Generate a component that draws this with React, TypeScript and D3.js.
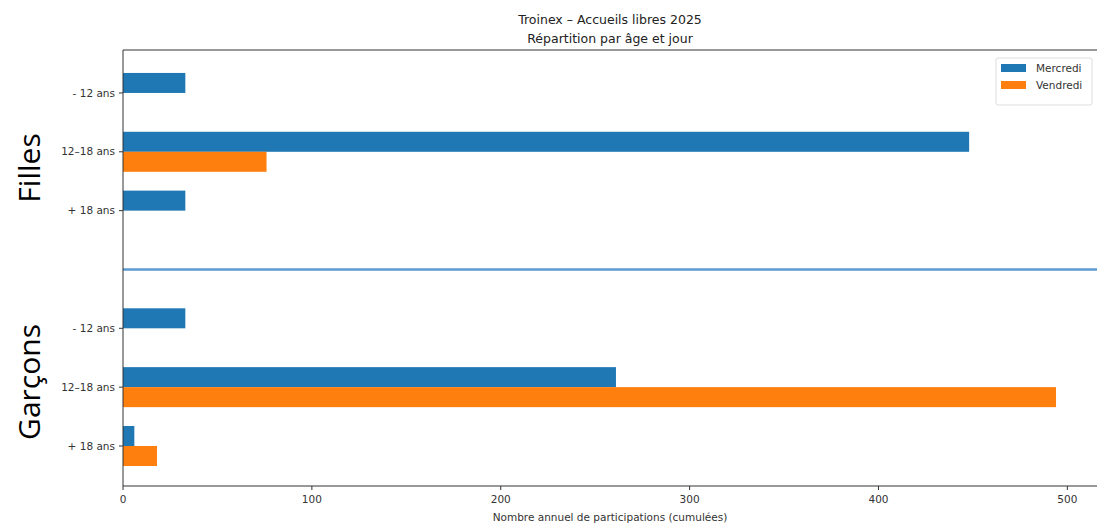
import React from "react";
import * as d3 from "d3";

const groups = ["Filles", "Garçons"];
const ageLabels = ["- 12 ans", "12–18 ans", "+ 18 ans"];
const series = ["Mercredi", "Vendredi"];
const fillesMercredi = [33, 448, 33];
const fillesVendredi = [0, 76, 0];
const garconsMercredi = [33, 261, 6];
const garconsVendredi = [0, 494, 18];
const xTicks = [0, 100, 200, 300, 400, 500];
const colors = ["#1f77b4", "#ff7f0e"];

const W = 1097;
const H = 524;
const left = 123;
const right = 1097;
const top = 50;
const bottom = 486;

export default function App() {
  const x = d3.scaleLinear().domain([0, 515.7]).range([left, right]);
  const y = d3.scaleLinear().domain([-0.73, 6.68]).range([top, bottom]);
  const barH = y(0.34) - y(0);

  const rows = [
    { g: 0, a: 0, vals: [fillesMercredi[0], fillesVendredi[0]], pos: 0 },
    { g: 0, a: 1, vals: [fillesMercredi[1], fillesVendredi[1]], pos: 1 },
    { g: 0, a: 2, vals: [fillesMercredi[2], fillesVendredi[2]], pos: 2 },
    { g: 1, a: 0, vals: [garconsMercredi[0], garconsVendredi[0]], pos: 4 },
    { g: 1, a: 1, vals: [garconsMercredi[1], garconsVendredi[1]], pos: 5 },
    { g: 1, a: 2, vals: [garconsMercredi[2], garconsVendredi[2]], pos: 6 },
  ];

  const font = "DejaVu Sans, sans-serif";

  return (
    <svg
      width={W}
      height={H}
      style={{ position: "absolute", left: 0, top: 0, background: "#fff" }}
    >
      <rect x={0} y={0} width={W} height={H} fill="#fff" />
      {rows.map((r, i) =>
        r.vals.map((v, s) => (
          <rect
            key={`${i}-${s}`}
            x={x(0)}
            y={s === 0 ? y(r.pos) - barH : y(r.pos)}
            width={x(v) - x(0)}
            height={barH}
            fill={colors[s]}
          />
        ))
      )}
      <line
        x1={left}
        x2={right}
        y1={y(3)}
        y2={y(3)}
        stroke="#5b9bd0"
        strokeWidth={2.6}
      />
      <line x1={left} x2={left} y1={top} y2={bottom} stroke="#333" strokeWidth={1} />
      <line x1={left} x2={right} y1={bottom} y2={bottom} stroke="#333" strokeWidth={1} />
      <line x1={left} x2={right} y1={top} y2={top} stroke="#333" strokeWidth={1} />
      {xTicks.map((t) => (
        <g key={t}>
          <line x1={x(t)} x2={x(t)} y1={bottom} y2={bottom + 4} stroke="#333" />
          <text
            x={x(t)}
            y={bottom + 17}
            textAnchor="middle"
            fontFamily={font}
            fontSize={10.5}
            fill="#333"
          >
            {t}
          </text>
        </g>
      ))}
      {rows.map((r, i) => (
        <g key={`yt${i}`}>
          <line x1={left - 4} x2={left} y1={y(r.pos)} y2={y(r.pos)} stroke="#333" />
          <text
            x={left - 8}
            y={y(r.pos)}
            dy="0.35em"
            textAnchor="end"
            fontFamily={font}
            fontSize={10.5}
            fill="#333"
          >
            {ageLabels[r.a]}
          </text>
        </g>
      ))}
      {groups.map((g, gi) => {
        const cy = gi === 0 ? 168 : 382;
        return (
          <text
            key={g}
            transform={`translate(40,${cy}) rotate(-90)`}
            textAnchor="middle"
            fontFamily="Open Sans, Noto Sans, sans-serif"
            fontSize={30}
            fill="#000"
          >
            {g}
          </text>
        );
      })}
      <text
        x={(left + right) / 2}
        y={24}
        textAnchor="middle"
        fontFamily={font}
        fontSize={12.5}
        fill="#222"
      >
        Troinex – Accueils libres 2025
      </text>
      <text
        x={(left + right) / 2}
        y={43}
        textAnchor="middle"
        fontFamily={font}
        fontSize={12.5}
        fill="#222"
      >
        Répartition par âge et jour
      </text>
      <text
        x={(left + right) / 2}
        y={521}
        textAnchor="middle"
        fontFamily={font}
        fontSize={10.5}
        fill="#333"
      >
        Nombre annuel de participations (cumulées)
      </text>
      <g>
        <rect
          x={996}
          y={58}
          width={96}
          height={47}
          rx={2}
          fill="#fff"
          stroke="#ddd"
        />
        {series.map((s, i) => (
          <g key={s}>
            <rect x={1001} y={64 + i * 17} width={25} height={8} fill={colors[i]} />
            <text
              x={1036}
              y={68 + i * 17}
              dy="0.35em"
              fontFamily={font}
              fontSize={10.5}
              fill="#333"
            >
              {s}
            </text>
          </g>
        ))}
      </g>
    </svg>
  );
}
